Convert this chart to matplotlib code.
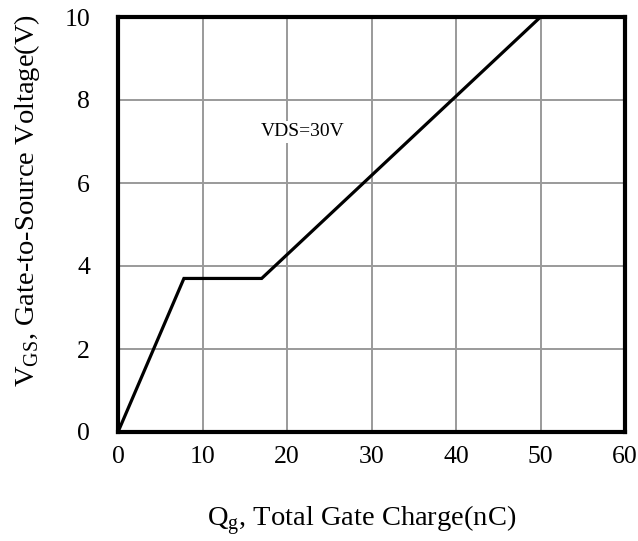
import matplotlib
matplotlib.use("Agg")
import matplotlib.pyplot as plt

qg = [0, 7.8, 17.0, 50.0]
vgs = [0, 3.7, 3.7, 10.0]
xticks = [0, 10, 20, 30, 40, 50, 60]
yticks = [0, 2, 4, 6, 8, 10]
annot = "VDS=30V"

plt.rcParams['font.family'] = ['Liberation Serif', 'DejaVu Serif']

fig = plt.figure(figsize=(6.38, 5.41), dpi=100)
ax = fig.add_axes([118/638, 1-432/541, 507/638, 415/541])

ax.plot(qg, vgs, color='black', lw=2.3, solid_joinstyle='miter', zorder=3)
ax.set_xlim(0, 60)
ax.set_ylim(0, 10)
ax.set_xticks(xticks)
ax.set_yticks(yticks)
ax.grid(True, color='#9a9a9a', lw=1.4)
ax.tick_params(length=0, labelsize=18.5)
ax.tick_params(axis='x', pad=10)
ax.tick_params(axis='y', pad=20)
for s in ax.spines.values():
    s.set_linewidth(3)
    s.set_color('black')
    s.set_zorder(4)

ax.text(21.9, 7.23, annot, fontsize=14, ha='center', va='center',
        bbox=dict(facecolor='white', edgecolor='none', pad=2), zorder=2)

ax.set_xlabel(r"Q$_\mathregular{g}$, Total Gate Charge(nC)", fontsize=20.5, va='baseline')
ax.set_ylabel(r"V$_\mathregular{GS}$, Gate-to-Source Voltage(V)", fontsize=20.5, va='baseline')
ax.xaxis.set_label_coords(0.48, -0.227)
ax.yaxis.set_label_coords(-0.166, 0.557)

fig.savefig("out.png", dpi=100)
